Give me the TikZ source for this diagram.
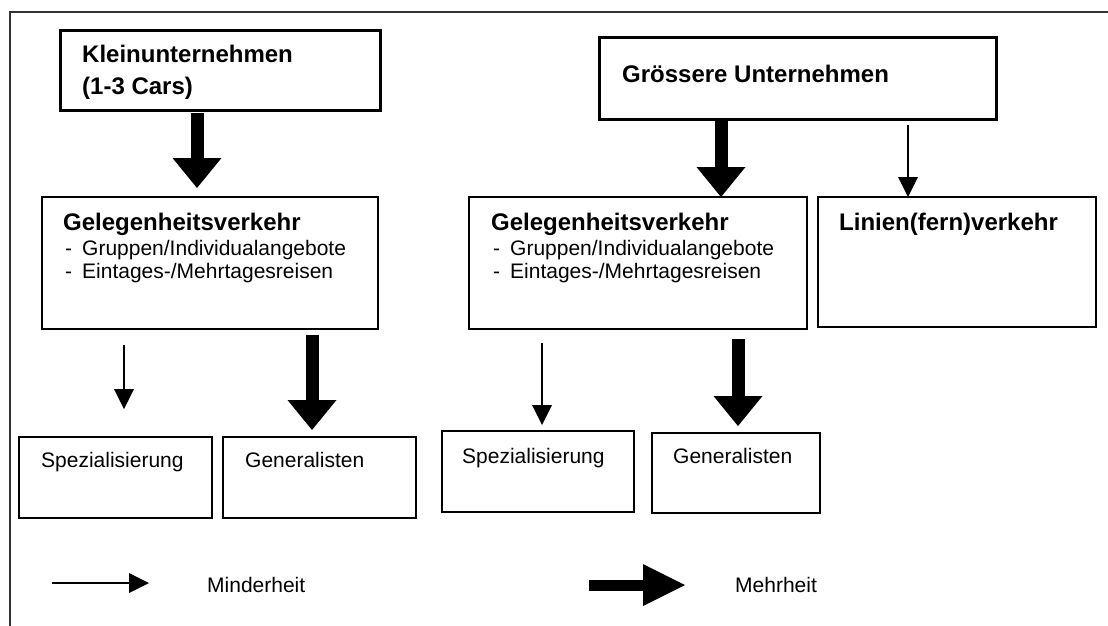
\documentclass[tikz,border=0pt]{standalone}
\usepackage{fontspec}
\setmainfont{Liberation Sans}
\usetikzlibrary{arrows.meta}
\begin{document}
\begin{tikzpicture}[x=1pt,y=-1pt,
  frameline/.style={line width=1.3pt, black!80},
  box/.style={draw, line width=1.3pt, inner sep=0pt, outer sep=0pt, anchor=north west},
  heavybox/.style={box, line width=3pt},
  lbl/.style={inner sep=0pt, anchor=base west, font=\fontsize{21}{24}\selectfont},
  blbl/.style={inner sep=0pt, anchor=base west, font=\fontsize{24}{28}\selectfont\bfseries},
  minorarrow/.style={line width=1.3pt, -{Triangle[width=20pt,length=20pt,line width=0pt]}},
  majorarrow/.style={line width=13pt, -{Triangle[width=49pt,length=30pt,line width=0pt]}},
  legendmajor/.style={line width=11pt, -{Triangle[width=42pt,length=42pt,line width=0pt]}},
]
\useasboundingbox (0,0) rectangle (1108,626);

% outer frame (open to the right and bottom)
\draw[frameline] (1110,12) -- (10,12) -- (10,628);

% boxes
\node[heavybox, minimum width=320pt, minimum height=79pt] (klein) at (60,31) {};
\node[heavybox, minimum width=397pt, minimum height=81pt] (gross) at (599,38) {};
\node[box, minimum width=336pt, minimum height=132pt] (gelL) at (42,197) {};
\node[box, minimum width=338pt, minimum height=132pt] (gelR) at (469,197) {};
\node[box, minimum width=278pt, minimum height=130pt] (linien) at (818,197) {};
\node[box, minimum width=193pt, minimum height=81pt] (spezL) at (19,437) {};
\node[box, minimum width=193pt, minimum height=81pt] (genL) at (223,437) {};
\node[box, minimum width=192pt, minimum height=81pt] (spezR) at (442,431) {};
\node[box, minimum width=168pt, minimum height=80pt] (genR) at (652,433) {};

% texts
\node[blbl] (kleinA) at (82,63) {Kleinunternehmen};
\node[blbl] (kleinB) at (82,95) {(1-3 Cars)};
\node[blbl] (grossT) at (622,82) {Grössere Unternehmen};

\node[blbl] (gelLT) at (63,230) {Gelegenheitsverkehr};
\node[lbl] (gelLa) at (65,255) {\makebox[17pt][l]{-}Gruppen/Individualangebote};
\node[lbl] (gelLb) at (65,278) {\makebox[17pt][l]{-}Eintages-/Mehrtagesreisen};

\node[blbl] (gelRT) at (491,230) {Gelegenheitsverkehr};
\node[lbl] (gelRa) at (493,255) {\makebox[17pt][l]{-}Gruppen/Individualangebote};
\node[lbl] (gelRb) at (493,278) {\makebox[17pt][l]{-}Eintages-/Mehrtagesreisen};

\node[blbl] (linienT) at (839,230) {Linien(fern)verkehr};

\node[lbl] (spezLT) at (41,467) {Spezialisierung};
\node[lbl] (genLT) at (245,467) {Generalisten};
\node[lbl] (spezRT) at (462,463) {Spezialisierung};
\node[lbl] (genRT) at (673,463) {Generalisten};

% arrow columns
\coordinate (c1) at (197,0);
\coordinate (c2) at (124,0);
\coordinate (c3) at (312,0);
\coordinate (c4) at (721,0);
\coordinate (c5) at (908,0);
\coordinate (c6) at (542,0);
\coordinate (c7) at (738,0);

% connectors
\draw[majorarrow, shorten <=3pt, shorten >=9pt] (klein.south -| c1) -- (gelL.north -| c1);
\draw[minorarrow, shorten <=16pt, shorten >=28pt] (gelL.south -| c2) -- (spezL.north -| c2);
\draw[majorarrow, shorten <=6pt, shorten >=7pt] (gelL.south -| c3) -- (genL.north -| c3);
\draw[majorarrow, shorten <=2pt, shorten >=0pt] (gross.south -| c4) -- (gelR.north -| c4);
\draw[minorarrow, shorten <=6pt, shorten >=0pt] (gross.south -| c5) -- (linien.north -| c5);
\draw[minorarrow, shorten <=14pt, shorten >=6pt] (gelR.south -| c6) -- (spezR.north -| c6);
\draw[majorarrow, shorten <=10pt, shorten >=7pt] (gelR.south -| c7) -- (genR.north -| c7);

% legend
\coordinate (minS) at (52,583);
\coordinate (minE) at (149,583);
\draw[minorarrow] (minS) -- (minE);
\node[lbl] (minT) at (207,592) {Minderheit};

\coordinate (majS) at (589,585);
\coordinate (majE) at (685,585);
\draw[legendmajor] (majS) -- (majE);
\node[lbl] (majT) at (735,592) {Mehrheit};
\end{tikzpicture}
\end{document}
